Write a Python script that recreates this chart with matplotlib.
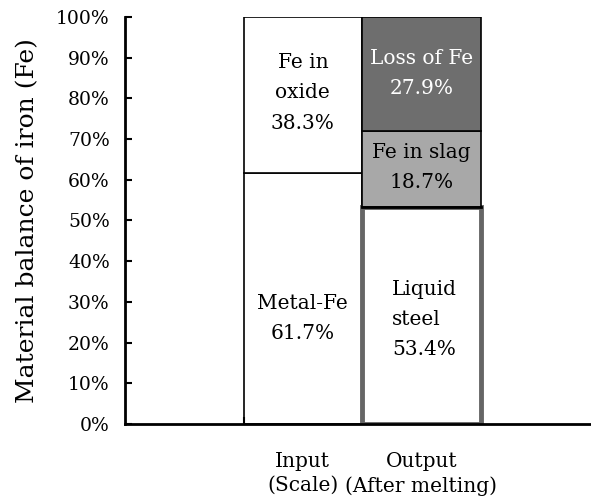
import numpy as np
import matplotlib.pyplot as plt
from matplotlib.ticker import PercentFormatter

plt.rcParams['font.family'] = 'DejaVu Serif'

# categories and stacked shares (fractions of total Fe)
categories = ['Input\n(Scale)', 'Output\n(After melting)']
input_parts = [0.617, 0.383]          # Metal-Fe, Fe in oxide
output_parts = [0.534, 0.187, 0.279]  # Liquid steel, Fe in slag, Loss of Fe
input_labels = ['Metal-Fe\n61.7%', 'Fe in\noxide\n38.3%']
output_labels = ['Liquid\nsteel\n53.4%', 'Fe in slag\n18.7%', 'Loss of Fe\n27.9%']

fig = plt.figure(figsize=(5.91, 4.99), dpi=100)
ax = fig.add_axes([125/591, 75/499, 1 - 125/591, (482 - 75)/499])

xin, xout = 1, 2

# input bar (two white blocks)
ax.bar(xin, input_parts[0], width=1, color='white', edgecolor='black', lw=1.2)
ax.bar(xin, input_parts[1], bottom=input_parts[0], width=1, color='white', edgecolor='black', lw=1.2)

# output bar
ax.bar(xout, output_parts[0], width=1, color='white', edgecolor='#666666', lw=3.5, zorder=2)
ax.bar(xout, output_parts[1], bottom=output_parts[0], width=1, color='#a8a8a8',
       edgecolor='black', lw=1.2, zorder=3)
ax.bar(xout, output_parts[2], bottom=output_parts[0] + output_parts[1], width=1,
       color='#6e6e6e', edgecolor='black', lw=1.2, zorder=3)
ax.plot([xout - 0.5, xout + 0.5], [output_parts[0]] * 2, color='black', lw=2, zorder=4)

fs = 14.5
ls = 1.75
ax.text(xin, input_parts[0] / 2 - 0.05, input_labels[0], ha='center', va='center',
        fontsize=fs, linespacing=ls, zorder=5)
ax.text(xin, input_parts[0] + input_parts[1] / 2 + 0.005, input_labels[1], ha='center', va='center',
        fontsize=fs, linespacing=ls, zorder=5)
ax.text(xout - 0.25, output_parts[0] / 2 - 0.01, output_labels[0], ha='left', va='center',
        multialignment='left', fontsize=fs, linespacing=ls, zorder=5)
ax.text(xout, output_parts[0] + output_parts[1] / 2 + 0.003, output_labels[1], ha='center', va='center',
        fontsize=fs, linespacing=ls, zorder=5)
ax.text(xout, output_parts[0] + output_parts[1] + output_parts[2] / 2, output_labels[2],
        ha='center', va='center', fontsize=fs, linespacing=ls, color='white', zorder=5)

ax.set_xlim(-0.5, 3.43)
ax.set_ylim(0, 1)
ax.yaxis.set_major_locator(plt.MultipleLocator(0.1))
ax.yaxis.set_major_formatter(PercentFormatter(1.0, decimals=0))
ax.tick_params(axis='y', direction='in', length=5, width=1.5, labelsize=13.5, pad=11)

# category ticks at boundaries, labels at centres
ax.set_xticks([0.5, 1.5, 2.5])
ax.set_xticklabels([])
ax.tick_params(axis='x', which='major', direction='in', length=5, width=1.5)
ax.set_xticks([xin, xout], minor=True)
ax.set_xticklabels(categories, minor=True, fontsize=14.5, linespacing=1.35)
ax.tick_params(axis='x', which='minor', length=0, pad=20)

ax.set_ylabel('Material balance of iron (Fe)', fontsize=18, labelpad=12)

for s in ['top', 'right']:
    ax.spines[s].set_visible(False)
ax.spines['left'].set_linewidth(2)
ax.spines['bottom'].set_linewidth(2)

fig.savefig('out.png', dpi=100)
